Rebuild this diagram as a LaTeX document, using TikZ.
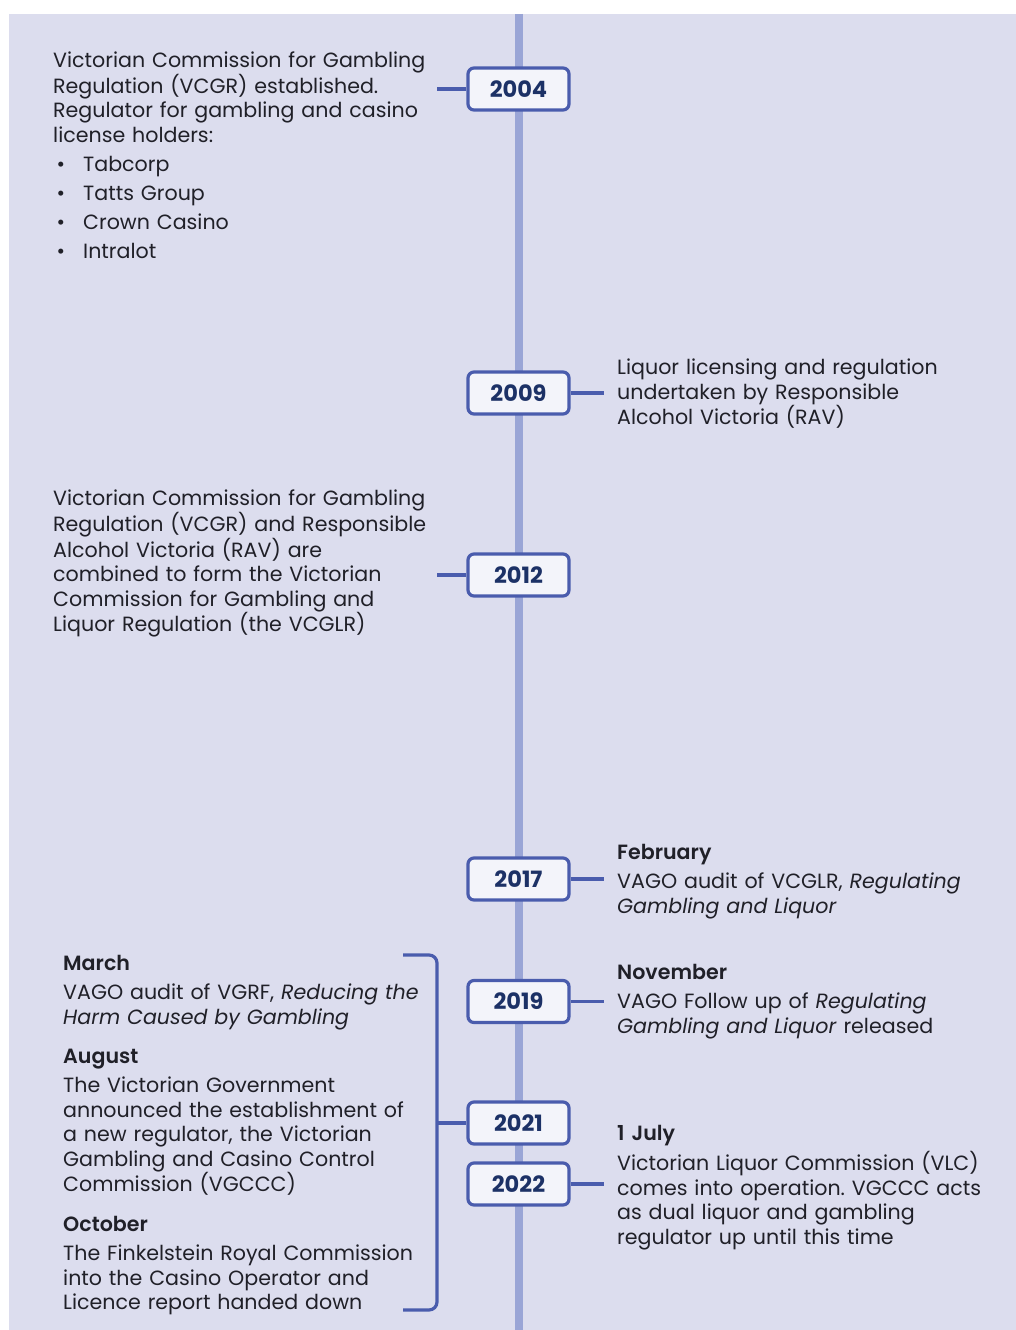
\documentclass[tikz,border=0pt]{standalone}
\usepackage{fontspec}
\setmainfont{Poppins}[BoldFont={* SemiBold}]
\newfontfamily\yearfont{Poppins}
\usetikzlibrary{positioning}
\definecolor{bgpanel}{HTML}{DCDDEE}
\definecolor{axisline}{HTML}{9AA5D6}
\definecolor{boxline}{HTML}{4A5CAD}
\definecolor{boxfill}{HTML}{F3F4FA}
\definecolor{yeartext}{HTML}{1C3166}
\definecolor{bodytext}{HTML}{202028}
\frenchspacing

\begin{document}
\begin{tikzpicture}[x=1pt,y=-1pt]
	\tikzstyle{year}=[rectangle,rounded corners=6pt,draw=boxline,fill=boxfill,line width=3.2pt,minimum width=101pt,minimum height=42pt,inner sep=0pt,text=yeartext,font=\yearfont\fontsize{22.5}{24}\selectfont\bfseries]
	\tikzstyle{event}=[anchor=base west,inner sep=0pt,text width=440pt,align=left,text=bodytext,font=\fontsize{20.6}{24.5}\selectfont]
	\tikzstyle{link}=[draw=boxline,line width=3.2pt]
	
	\useasboundingbox (0,0) rectangle (1016,1330);
	\fill[bgpanel] (9,14) rectangle (1016,1330);
	\coordinate (top) at (518.5,14);
	\coordinate (bottom) at (518.5,1330);
	\draw[axisline,line width=8pt] (top) -- (bottom);
	
	\node[year] (a) at (518.5,89) {2004};
	\node[year] (b) at (518.5,393) {2009};
	\node[year] (c) at (518.5,575) {2012};
	\node[year] (d) at (518.5,879) {2017};
	\node[year] (e) at (518.5,1001.5) {2019};
	\node[year] (f) at (518.5,1123) {2021};
	\node[year] (g) at (518.5,1184) {2022};
	
	\node[event] (ta) at (53,67.5) {Victorian Commission for Gambling\\ Regulation (VCGR) established.\\ Regulator for gambling and casino\\ license holders:\\[4.5pt]
		\makebox[30pt][l]{\,\textbullet}Tabcorp\\[4.5pt]
		\makebox[30pt][l]{\,\textbullet}Tatts Group\\[4.5pt]
		\makebox[30pt][l]{\,\textbullet}Crown Casino\\[4.5pt]
		\makebox[30pt][l]{\,\textbullet}Intralot};
	\node[event] (tb) at (617,374.5) {Liquor licensing and regulation\\ undertaken by Responsible\\ Alcohol Victoria (RAV)};
	\node[event] (tc) at (53,505.5) {Victorian Commission for Gambling\\ Regulation (VCGR) and Responsible\\ Alcohol Victoria (RAV) are\\ combined to form the Victorian\\ Commission for Gambling and\\ Liquor Regulation (the VCGLR)};
	\node[event] (td) at (617,859.5) {\textbf{February}\\[4.5pt] VAGO audit of VCGLR, \textit{Regulating}\\ \textit{Gambling and Liquor}};
	\node[event] (te) at (617,979.5) {\textbf{November}\\[4.5pt] VAGO Follow up of \textit{Regulating}\\ \textit{Gambling and Liquor} released};
	\node[event] (tf1) at (63,970.5) {\textbf{March}\\[4.5pt] VAGO audit of VGRF, \textit{Reducing the}\\ \textit{Harm Caused by Gambling}};
	\node[event] (tf2) at (63,1063.5) {\textbf{August}\\[4.5pt] The Victorian Government\\ announced the establishment of\\ a new regulator, the Victorian\\ Gambling and Casino Control\\ Commission (VGCCC)};
	\node[event] (tf3) at (63,1231.5) {\textbf{October}\\[4.5pt] The Finkelstein Royal Commission\\ into the Casino Operator and\\ Licence report handed down};
	\node[event] (tg) at (617,1140.5) {\textbf{1 July}\\[4.5pt] Victorian Liquor Commission (VLC)\\ comes into operation. VGCCC acts\\ as dual liquor and gambling\\ regulator up until this time};
	
	\coordinate (la) at (437,89);
	\coordinate (lc) at (437,575);
	\coordinate (rb) at (604,393);
	\coordinate (rd) at (604,879);
	\coordinate (re) at (604,1001.5);
	\coordinate (rg) at (604,1184);
	\coordinate (bt) at (403,955);
	\coordinate (bm) at (437,1123);
	\coordinate (bb) at (403,1310);
	
	\draw[link] (a.west) -- (la);
	\draw[link] (c.west) -- (lc);
	\draw[link] (b.east) -- (rb);
	\draw[link] (d.east) -- (rd);
	\draw[link] (e.east) -- (re);
	\draw[link] (g.east) -- (rg);
	\draw[link,rounded corners=8pt] (bt) -| (bm) |- (bb);
	\draw[link] (bm) -- (f.west);
\end{tikzpicture}
\end{document}
